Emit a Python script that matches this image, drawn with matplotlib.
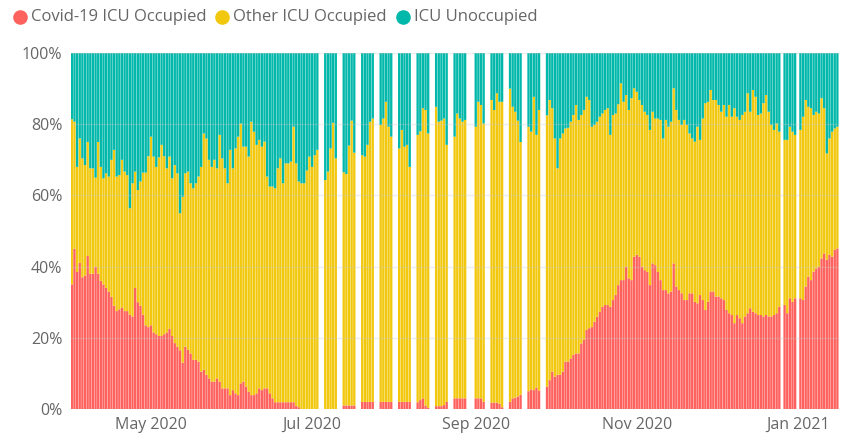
import datetime as dt

import numpy as np
import matplotlib
matplotlib.use("Agg")
import matplotlib.pyplot as plt
import matplotlib.dates as mdates
from matplotlib.lines import Line2D

plt.rcParams["font.family"] = ["Open Sans", "DejaVu Sans"]

start = dt.date(2020, 4, 1)
labels = ["Covid-19 ICU Occupied", "Other ICU Occupied", "ICU Unoccupied"]
colors = ["#FD625E", "#F2C80F", "#01B8AA"]

# % of ICU beds taken by Covid-19 patients, one entry per day from 1 Apr 2020
# (None = no report that day)
covid_pct = [
    35, 45, 38.5, 41, 37, 37.5, 43, 38, 38, 40,
    38, 36, 35, 34, 33, 31.5, 29, 27.5, 28, 28.5,
    27.5, 27.5, 26.5, 26, 34, 30, 29, 26.5, 23.5, 23,
    23.5, 21.5, 21, 20.5, 20.5, 21, 21.5, 22.5, 20.5, 18.5,
    17.5, 16.5, 13, 17.5, 16.6, 15.6, 13.8, 13.8, 13.3, 10.5,
    11, 9.6, 8.6, 7.7, 7.7, 8.6, 7.7, 5.8, 5.8, 5.8,
    3.9, 5.3, 4.4, 3.9, 7.2, 7.7, 6.3, 4.9, 3.9, 3.9,
    4.4, 5.8, 5.3, 5.8, 5.8, 4.4, 3, 1.9, 1.9, 1.9,
    1.9, 1.9, 1.9, 1.9, 1.9, 0.9, 0.5, 0, 0, 0,
    0, 0, 0, 0, None, None, 0, 0, 0, 0,
    0, None, None, 1, 1, 1, 1, 1, None, None,
    2, 2, 2, 2, 2, None, None, 2, 2, 2,
    2, 2, None, None, 2, 2, 2, 2, 2, None,
    None, 1.9, 2.5, 3, 1, 0.3, None, None, 0.8, 0.8,
    0.8, 1.1, 2, None, None, 3, 3, 3, 3, 3,
    None, None, None, 3, 3, 3, 2, None, None, 1.8,
    1.8, 1.8, 1.5, 0.5, None, None, 2, 3, 3.2, 3.5,
    4, None, None, 5, 5.5, 5.3, 6, 5.2, None, None,
    6.3, 8.1, 10.5, 9.1, 9.6, 9.6, 10.5, 13.3, 13.3, 14.2,
    15.2, 15.6, 15.6, 18.4, 19.4, 22.2, 22.7, 23, 24.5, 25.9,
    27.3, 28.7, 29.2, 29.2, 28.7, 30.6, 32, 34.8, 36.2, 36.2,
    40, 36.7, 36.2, 42.8, 43.3, 42.8, 40, 39, 38.5, 34.8,
    40.9, 40.4, 38.5, 36.2, 33.4, 33.4, 32.5, 33, 40.9, 34.4,
    33.4, 32.5, 30.6, 30.6, 32.5, 32.5, 30.1, 29.7, 32, 30.6,
    27.8, 30.1, 33, 33, 31.6, 31.6, 31.1, 30.6, 27.8, 26.9,
    26.4, 24.1, 26.4, 25.5, 24.1, 26, 26.9, 28.3, 27.3, 26.9,
    26.4, 26.4, 26, 26.4, 26, 26, 26.4, 26.9, 28.7, None,
    29.2, 26.9, 31.1, 30.1, 31.1, None, 31.1, 30.6, 34.4, 37.2,
    36.2, 38.6, 39.5, 40, 42.3, 43.7, 41.9, 43.3, 42.8, 44.7, 45.1,
]

# % of ICU beds occupied in total (Covid-19 + other patients)
occupied_pct = [
    81.4, 80.7, 68, 76, 70.4, 68.5, 75, 67.6, 67.6, 65,
    75, 68, 64.8, 66.2, 65.3, 70, 72.8, 65.3, 65.7, 70,
    66.7, 65.7, 56.4, 63.4, 66.7, 61.5, 63.9, 66.4, 66.4, 71,
    76.5, 70.9, 68, 70.7, 74.2, 71, 67.6, 70.9, 64.8, 68.5,
    66.2, 55, 59.6, 66.2, 66.7, 63.4, 62, 63.4, 65.3, 68,
    77.4, 76, 70, 68, 70, 67.6, 77, 70.4, 67.6, 63.4,
    72.8, 67.6, 73.2, 76.5, 80.2, 73.7, 73.7, 70.9, 80.7, 77.9,
    74.2, 75.6, 73.7, 75.1, 65.3, 62.5, 62.5, 62, 67.6, 70.4,
    63.4, 69, 69, 69.5, 79.3, 69, 63.9, 63.4, 63.4, 67,
    70.9, 68, 71.3, 72.8, None, None, 64.3, 66.7, 73.2, 80.4,
    70.4, None, None, 66.5, 66, 74, 81, 72, None, None,
    71.3, 70.9, 74.2, 80.7, 81.6, None, None, 79.8, 81.6, 86.3,
    79.3, 76.5, None, None, 73.2, 78.4, 73.7, 74.2, 68, None,
    None, 77, 78, 84.5, 84, 77.4, None, None, 84.9, 80.7,
    81, 81.6, 74.2, None, None, 76.5, 83, 81.6, 80.7, 81.2,
    None, None, None, 79.3, 86.3, 85.4, 80.2, None, None, 86.8,
    84, 88.7, 86.3, 86.3, None, None, 90, 84.9, 83.5, 81,
    75, None, None, 79.3, 77.9, 87.7, 77, 84, None, None,
    82.5, 86.8, 84.5, 76, 67.6, 76, 77.4, 78.8, 79, 80.7,
    82.6, 85.4, 81.2, 82.6, 84, 87.7, 86.8, 79.3, 79.8, 80.7,
    82.1, 83, 84, 84.5, 77, 82.6, 83, 85.6, 91.5, 86.3,
    88.2, 84, 87.3, 90.1, 89.1, 86.8, 85.4, 83.5, 82.6, 78.4,
    83.5, 81.6, 81.6, 81.2, 76, 81.2, 79.3, 80.7, 90.1, 84,
    81.2, 79.8, 81.2, 79.8, 77.4, 76, 75.1, 79.3, 75.6, 81.6,
    85.9, 86.3, 89.6, 86.8, 86.8, 85.4, 83.5, 85.4, 82.1, 85.4,
    82.1, 84.5, 82.1, 81.2, 82.6, 83.5, 88.7, 83.5, 89.6, 87.7,
    82.6, 83, 85.9, 88.2, 83.5, 79.8, 78.4, 80.2, 77.9, None,
    75.6, 75.6, 79.3, 77.9, 77, None, 78.4, 82.1, 86.8, 84.9,
    84.5, 82.6, 83.5, 83, 87.3, 84.5, 71.8, 76, 77.9, 78.8, 79.3,
]

covid = np.array(covid_pct, dtype=float)
occupied = np.array(occupied_pct, dtype=float)
days = [start + dt.timedelta(days=i) for i in range(len(covid))]
xnum = mdates.date2num(days)

have = ~np.isnan(covid)
x = xnum[have]
c = covid[have]
occ = occupied[have]
other = occ - c
free = 100 - occ

W, H = 841, 434
fig = plt.figure(figsize=(W / 100, H / 100), dpi=100)
ax = fig.add_axes([70.5 / W, 25 / H, 768.2 / W, 356 / H])

# no pixel snapping so the thin gaps between daily bars render as faint lines
w = 0.88
for bottom, height, col in [(0, c, colors[0]), (c, other, colors[1]), (occ, free, colors[2])]:
    bars = ax.bar(x, height, bottom=bottom, width=w, color=col, linewidth=0, zorder=2)
    for b in bars:
        b.set_snap(False)

ax.set_xlim(xnum[0] - 0.5, xnum[-1] + 0.5)
ax.set_ylim(0, 100)

for g in range(20, 101, 20):
    ax.axhline(g, color="#c8c8c8", lw=1, alpha=0.3, zorder=3)

ax.set_yticks(range(0, 101, 20))
ax.set_yticklabels([f"{v}%" for v in range(0, 101, 20)])
ax.xaxis.set_major_locator(mdates.MonthLocator(bymonth=[1, 5, 7, 9, 11]))
ax.xaxis.set_major_formatter(mdates.DateFormatter("%b %Y"))
ax.tick_params(axis="both", length=0, labelsize=11.5, colors="#666666")
ax.tick_params(axis="y", pad=6)
ax.tick_params(axis="x", pad=6)
for s in ax.spines.values():
    s.set_visible(False)

# legend row across the top: dot then label
for (dot_x, label, col) in zip([20, 222, 403], labels, colors):
    fig.add_artist(Line2D([dot_x / W], [1 - 17 / H], transform=fig.transFigure,
                          marker="o", markersize=10.5, linestyle="",
                          markerfacecolor=col, markeredgewidth=0))
    fig.text((dot_x + 11) / W, 1 - 17 / H, label, fontsize=12, color="#666666",
             va="center", ha="left")

fig.savefig("out.png", dpi=100)
